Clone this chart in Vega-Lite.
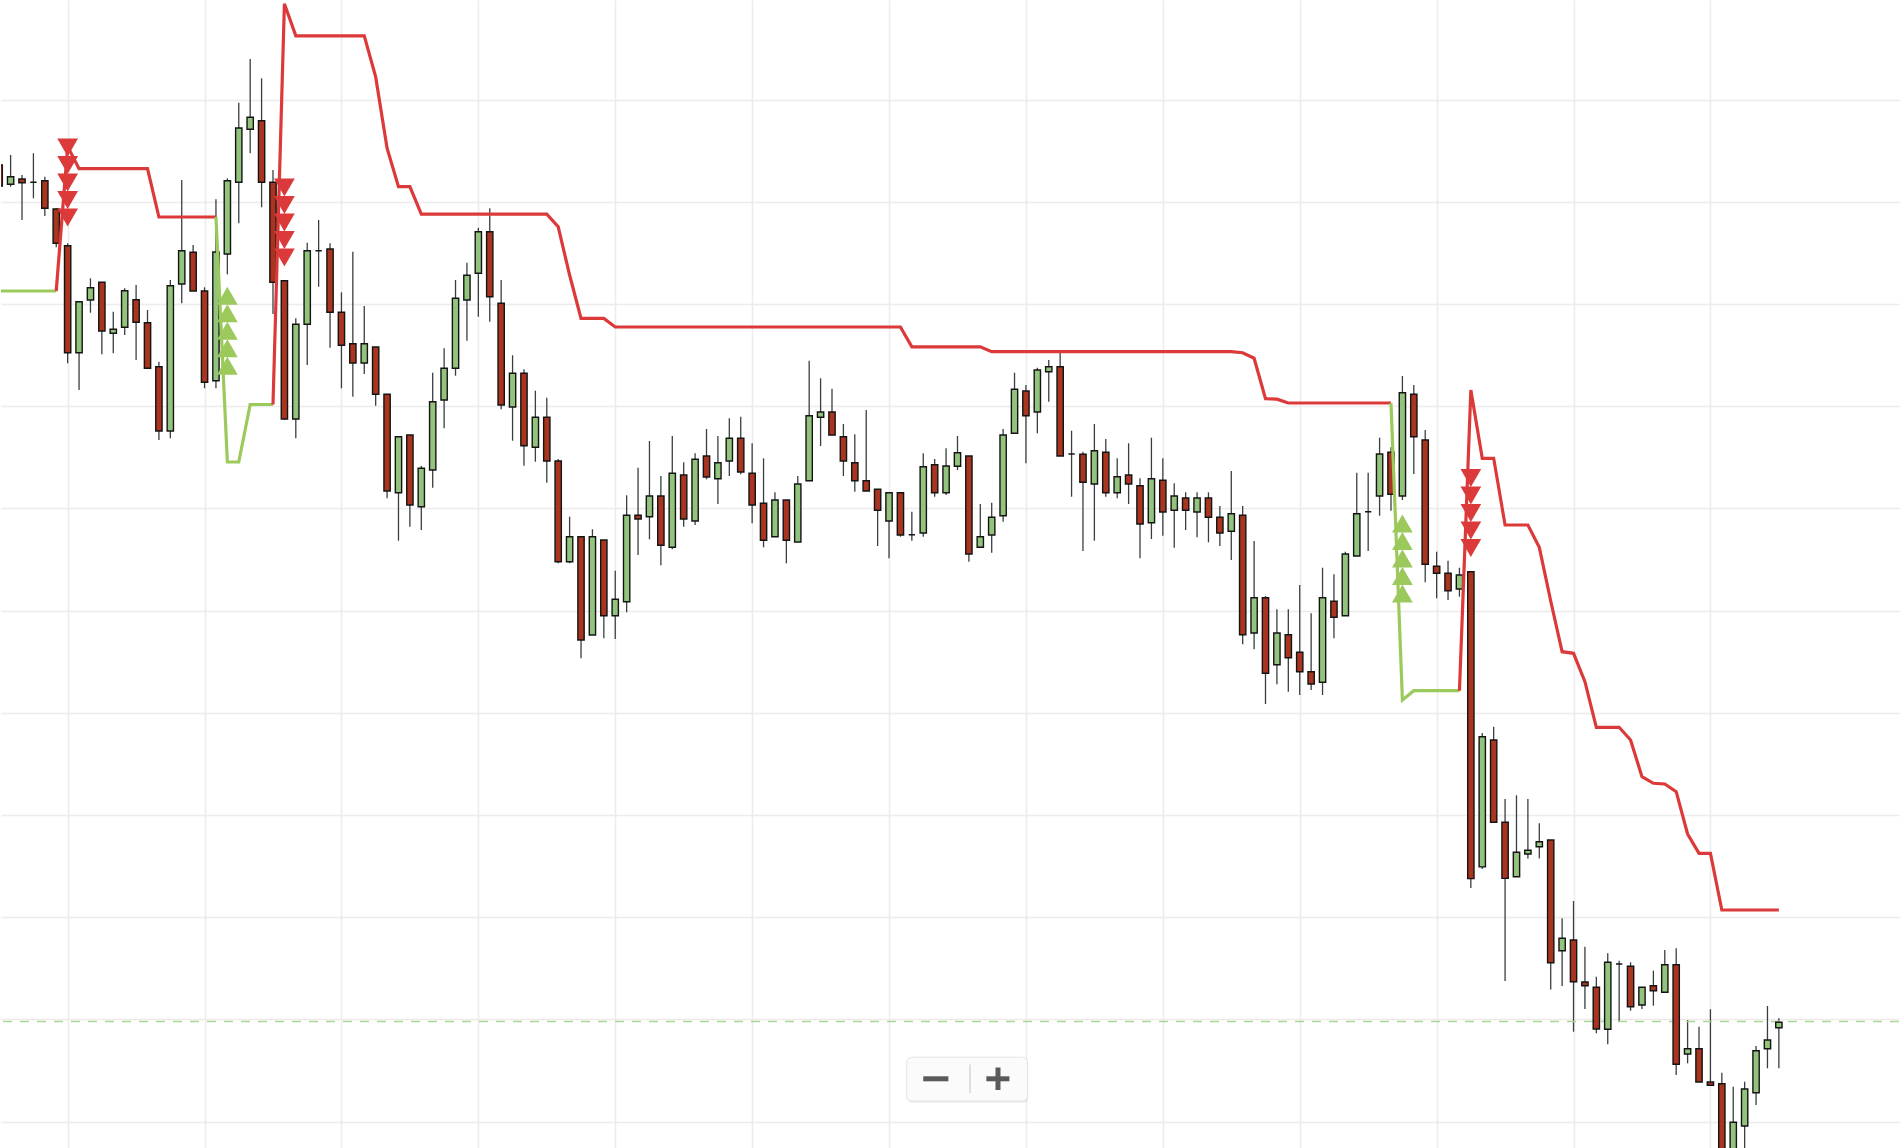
{
  "$schema": "https://vega.github.io/schema/vega-lite/v6.json",
  "width": 1900,
  "height": 1148,
  "padding": 0,
  "autosize": {"type": "fit", "contains": "padding"},
  "background": "#ffffff",
  "datasets": {
    "candles": [
      {"i":0,"o":103.5,"h":104.2,"l":101.0,"c":101.4},
      {"i":1,"o":101.57,"h":104.5,"l":101.33,"c":102.33},
      {"i":2,"o":102.1,"h":102.5,"l":98.0,"c":101.73},
      {"i":3,"o":101.77,"h":104.67,"l":100.17,"c":101.77},
      {"i":4,"o":101.93,"h":102.33,"l":98.4,"c":99.17},
      {"i":5,"o":99.1,"h":99.17,"l":95.27,"c":95.67},
      {"i":6,"o":95.43,"h":95.67,"l":83.67,"c":84.73},
      {"i":7,"o":84.73,"h":89.83,"l":81.0,"c":89.83},
      {"i":8,"o":90.0,"h":92.17,"l":88.73,"c":91.23},
      {"i":9,"o":91.77,"h":91.77,"l":84.57,"c":86.9},
      {"i":10,"o":86.67,"h":88.83,"l":84.67,"c":87.07},
      {"i":11,"o":87.27,"h":91.17,"l":86.5,"c":90.93},
      {"i":12,"o":90.03,"h":91.5,"l":84.0,"c":87.77},
      {"i":13,"o":87.73,"h":89.0,"l":83.17,"c":83.17},
      {"i":14,"o":83.33,"h":83.83,"l":76.0,"c":76.9},
      {"i":15,"o":76.9,"h":92.0,"l":76.17,"c":91.43},
      {"i":16,"o":91.6,"h":102.0,"l":89.67,"c":94.93},
      {"i":17,"o":94.77,"h":95.5,"l":90.9,"c":90.9},
      {"i":18,"o":90.9,"h":91.27,"l":81.17,"c":81.77},
      {"i":19,"o":81.93,"h":100.07,"l":81.17,"c":94.8},
      {"i":20,"o":94.6,"h":102.17,"l":92.57,"c":101.93},
      {"i":21,"o":101.77,"h":109.73,"l":97.67,"c":107.2},
      {"i":22,"o":107.07,"h":114.1,"l":104.67,"c":108.27},
      {"i":23,"o":107.93,"h":112.17,"l":99.27,"c":101.77},
      {"i":24,"o":101.77,"h":103.0,"l":88.6,"c":91.77},
      {"i":25,"o":91.93,"h":92.0,"l":78.0,"c":78.1},
      {"i":26,"o":78.1,"h":88.17,"l":76.17,"c":87.57},
      {"i":27,"o":87.57,"h":95.73,"l":83.5,"c":94.93},
      {"i":28,"o":94.93,"h":98.0,"l":91.33,"c":94.93},
      {"i":29,"o":95.1,"h":95.67,"l":85.23,"c":88.77},
      {"i":30,"o":88.77,"h":90.77,"l":81.17,"c":85.47},
      {"i":31,"o":85.63,"h":94.83,"l":80.33,"c":83.7},
      {"i":32,"o":83.7,"h":89.4,"l":82.6,"c":85.63},
      {"i":33,"o":85.3,"h":85.3,"l":79.43,"c":80.57},
      {"i":34,"o":80.57,"h":80.57,"l":70.17,"c":70.9},
      {"i":35,"o":70.73,"h":76.33,"l":65.93,"c":76.33},
      {"i":36,"o":76.5,"h":76.5,"l":67.33,"c":69.5},
      {"i":37,"o":69.33,"h":73.4,"l":67.0,"c":73.17},
      {"i":38,"o":73.0,"h":82.73,"l":71.23,"c":79.83},
      {"i":39,"o":80.0,"h":85.17,"l":77.17,"c":83.17},
      {"i":40,"o":83.17,"h":92.0,"l":82.43,"c":90.17},
      {"i":41,"o":90.0,"h":93.73,"l":85.93,"c":92.47},
      {"i":42,"o":92.67,"h":97.23,"l":88.33,"c":96.83},
      {"i":43,"o":96.83,"h":99.17,"l":87.83,"c":90.33},
      {"i":44,"o":89.67,"h":92.0,"l":79.07,"c":79.5},
      {"i":45,"o":79.3,"h":84.47,"l":75.93,"c":82.67},
      {"i":46,"o":82.67,"h":83.07,"l":73.43,"c":75.43},
      {"i":47,"o":75.27,"h":80.93,"l":73.83,"c":78.27},
      {"i":48,"o":78.27,"h":80.23,"l":71.73,"c":73.9},
      {"i":49,"o":73.9,"h":74.1,"l":63.67,"c":63.83},
      {"i":50,"o":63.83,"h":68.33,"l":63.67,"c":66.33},
      {"i":51,"o":66.33,"h":66.33,"l":54.17,"c":56.0},
      {"i":52,"o":56.5,"h":67.07,"l":56.5,"c":66.33},
      {"i":53,"o":66.0,"h":66.0,"l":56.17,"c":58.43},
      {"i":54,"o":58.43,"h":62.93,"l":56.1,"c":60.07},
      {"i":55,"o":59.83,"h":70.47,"l":58.77,"c":68.47},
      {"i":56,"o":68.47,"h":73.23,"l":64.5,"c":68.1},
      {"i":57,"o":68.33,"h":75.9,"l":66.07,"c":70.4},
      {"i":58,"o":70.4,"h":72.4,"l":63.47,"c":65.47},
      {"i":59,"o":65.27,"h":76.4,"l":65.07,"c":72.67},
      {"i":60,"o":72.5,"h":73.77,"l":67.33,"c":68.1},
      {"i":61,"o":67.9,"h":74.67,"l":67.5,"c":74.07},
      {"i":62,"o":74.4,"h":77.1,"l":72.07,"c":72.3},
      {"i":63,"o":72.13,"h":76.4,"l":69.6,"c":73.73},
      {"i":64,"o":73.9,"h":78.17,"l":72.4,"c":76.17},
      {"i":65,"o":76.17,"h":78.33,"l":72.57,"c":72.8},
      {"i":66,"o":72.67,"h":75.67,"l":67.67,"c":69.5},
      {"i":67,"o":69.67,"h":74.17,"l":65.27,"c":65.97},
      {"i":68,"o":66.33,"h":70.77,"l":66.33,"c":70.0},
      {"i":69,"o":70.0,"h":70.0,"l":63.67,"c":65.97},
      {"i":70,"o":65.8,"h":72.4,"l":65.8,"c":71.6},
      {"i":71,"o":71.93,"h":83.93,"l":71.93,"c":78.43},
      {"i":72,"o":78.27,"h":82.17,"l":75.4,"c":78.8},
      {"i":73,"o":78.8,"h":81.13,"l":76.5,"c":76.5},
      {"i":74,"o":76.33,"h":77.6,"l":72.4,"c":73.9},
      {"i":75,"o":73.73,"h":76.57,"l":70.83,"c":71.93},
      {"i":76,"o":71.93,"h":79.0,"l":70.9,"c":70.9},
      {"i":77,"o":71.07,"h":71.07,"l":65.4,"c":68.97},
      {"i":78,"o":67.9,"h":70.73,"l":64.17,"c":70.73},
      {"i":79,"o":70.73,"h":70.73,"l":66.33,"c":66.5},
      {"i":80,"o":66.53,"h":68.83,"l":65.93,"c":66.53},
      {"i":81,"o":66.7,"h":74.67,"l":66.33,"c":73.33},
      {"i":82,"o":73.53,"h":74.1,"l":70.33,"c":70.73},
      {"i":83,"o":70.73,"h":75.17,"l":70.5,"c":73.4},
      {"i":84,"o":73.37,"h":76.4,"l":73.0,"c":74.73},
      {"i":85,"o":74.4,"h":74.4,"l":63.83,"c":64.6},
      {"i":86,"o":65.27,"h":69.6,"l":65.27,"c":66.33},
      {"i":87,"o":66.5,"h":69.73,"l":64.73,"c":68.27},
      {"i":88,"o":68.43,"h":77.1,"l":67.83,"c":76.5},
      {"i":89,"o":76.67,"h":82.73,"l":76.67,"c":81.07},
      {"i":90,"o":80.9,"h":81.5,"l":73.67,"c":78.43},
      {"i":91,"o":78.8,"h":83.23,"l":76.67,"c":83.0},
      {"i":92,"o":82.83,"h":84.0,"l":79.83,"c":83.33},
      {"i":93,"o":83.33,"h":84.73,"l":74.4,"c":74.4},
      {"i":94,"o":74.6,"h":76.93,"l":70.33,"c":74.6},
      {"i":95,"o":74.57,"h":74.83,"l":64.9,"c":71.77},
      {"i":96,"o":71.6,"h":77.6,"l":65.93,"c":74.93},
      {"i":97,"o":74.77,"h":76.1,"l":70.33,"c":70.73},
      {"i":98,"o":70.73,"h":74.17,"l":70.17,"c":72.33},
      {"i":99,"o":72.5,"h":75.67,"l":69.6,"c":71.6},
      {"i":100,"o":71.43,"h":72.17,"l":64.17,"c":67.6},
      {"i":101,"o":67.73,"h":76.23,"l":66.1,"c":72.13},
      {"i":102,"o":71.97,"h":74.17,"l":66.43,"c":68.8},
      {"i":103,"o":68.97,"h":71.67,"l":65.23,"c":70.4},
      {"i":104,"o":70.2,"h":70.77,"l":67.0,"c":68.97},
      {"i":105,"o":68.8,"h":70.77,"l":66.27,"c":70.2},
      {"i":106,"o":70.2,"h":70.77,"l":65.77,"c":68.27},
      {"i":107,"o":68.27,"h":69.4,"l":65.4,"c":66.7},
      {"i":108,"o":66.87,"h":72.9,"l":64.0,"c":68.63},
      {"i":109,"o":68.47,"h":69.4,"l":55.57,"c":56.53},
      {"i":110,"o":56.7,"h":65.9,"l":55.07,"c":60.23},
      {"i":111,"o":60.23,"h":60.4,"l":49.6,"c":52.67},
      {"i":112,"o":53.53,"h":59.07,"l":51.57,"c":56.7},
      {"i":113,"o":56.53,"h":59.07,"l":50.83,"c":54.23},
      {"i":114,"o":54.77,"h":61.5,"l":50.5,"c":52.83},
      {"i":115,"o":52.83,"h":58.67,"l":51.0,"c":51.6},
      {"i":116,"o":51.77,"h":63.23,"l":50.5,"c":60.23},
      {"i":117,"o":59.87,"h":62.57,"l":56.17,"c":58.27},
      {"i":118,"o":58.43,"h":64.83,"l":58.43,"c":64.6},
      {"i":119,"o":64.4,"h":72.73,"l":64.4,"c":68.63},
      {"i":120,"o":68.83,"h":72.73,"l":64.9,"c":68.83},
      {"i":121,"o":70.4,"h":76.23,"l":68.43,"c":74.6},
      {"i":122,"o":74.77,"h":75.27,"l":68.93,"c":70.57},
      {"i":123,"o":70.4,"h":82.4,"l":70.0,"c":80.73},
      {"i":124,"o":80.57,"h":81.5,"l":72.6,"c":76.33},
      {"i":125,"o":76.0,"h":77.0,"l":61.77,"c":63.57},
      {"i":126,"o":63.37,"h":64.83,"l":60.17,"c":62.67},
      {"i":127,"o":62.67,"h":63.93,"l":60.0,"c":60.93},
      {"i":128,"o":61.1,"h":63.23,"l":60.33,"c":62.5},
      {"i":129,"o":62.83,"h":62.83,"l":31.2,"c":32.14},
      {"i":130,"o":33.31,"h":46.7,"l":33.1,"c":46.33},
      {"i":131,"o":46.0,"h":47.33,"l":37.78,"c":37.78},
      {"i":132,"o":37.78,"h":40.1,"l":21.9,"c":32.16},
      {"i":133,"o":32.33,"h":40.47,"l":32.33,"c":34.77},
      {"i":134,"o":34.6,"h":40.1,"l":34.15,"c":34.97},
      {"i":135,"o":35.32,"h":37.68,"l":34.15,"c":35.82},
      {"i":136,"o":36.0,"h":36.0,"l":21.06,"c":23.73},
      {"i":137,"o":24.93,"h":28.17,"l":21.4,"c":26.17},
      {"i":138,"o":26.0,"h":29.9,"l":16.83,"c":21.83},
      {"i":139,"o":21.8,"h":25.33,"l":19.1,"c":21.43},
      {"i":140,"o":21.27,"h":22.33,"l":16.67,"c":17.1},
      {"i":141,"o":17.07,"h":24.67,"l":15.57,"c":23.77},
      {"i":142,"o":23.6,"h":23.93,"l":17.83,"c":23.6},
      {"i":143,"o":23.37,"h":23.77,"l":18.93,"c":19.33},
      {"i":144,"o":19.5,"h":21.27,"l":19.1,"c":21.27},
      {"i":145,"o":21.43,"h":22.93,"l":19.43,"c":20.93},
      {"i":146,"o":20.77,"h":25.0,"l":20.77,"c":23.53},
      {"i":147,"o":23.53,"h":25.17,"l":12.5,"c":13.57},
      {"i":148,"o":14.6,"h":18.0,"l":13.67,"c":15.13},
      {"i":149,"o":15.13,"h":17.33,"l":11.8,"c":11.8},
      {"i":150,"o":11.8,"h":19.07,"l":11.47,"c":11.47},
      {"i":151,"o":11.63,"h":12.73,"l":2.5,"c":3.0},
      {"i":152,"o":3.0,"h":11.33,"l":2.5,"c":7.77},
      {"i":153,"o":7.4,"h":11.83,"l":5.0,"c":11.1},
      {"i":154,"o":10.73,"h":15.4,"l":9.5,"c":14.93},
      {"i":155,"o":15.13,"h":19.4,"l":13.17,"c":16.0},
      {"i":156,"o":17.23,"h":18.17,"l":13.17,"c":17.77}
    ],
    "supertrend": [
      {"i":0,"v":90.9,"s":"a","t":"up"},{"i":1,"v":90.9,"s":"a","t":"up"},{"i":2,"v":90.9,"s":"a","t":"up"},
      {"i":3,"v":90.9,"s":"a","t":"up"},{"i":4,"v":90.9,"s":"a","t":"up"},{"i":5,"v":90.9,"s":"a","t":"up"},
      {"i":5,"v":90.9,"s":"b","t":"dn"},{"i":6,"v":105.35,"s":"b","t":"dn"},{"i":7,"v":103.13,"s":"b","t":"dn"},
      {"i":8,"v":103.13,"s":"b","t":"dn"},{"i":9,"v":103.13,"s":"b","t":"dn"},{"i":10,"v":103.13,"s":"b","t":"dn"},
      {"i":11,"v":103.13,"s":"b","t":"dn"},{"i":12,"v":103.13,"s":"b","t":"dn"},{"i":13,"v":103.13,"s":"b","t":"dn"},
      {"i":14,"v":98.3,"s":"b","t":"dn"},{"i":15,"v":98.3,"s":"b","t":"dn"},{"i":16,"v":98.3,"s":"b","t":"dn"},
      {"i":17,"v":98.3,"s":"b","t":"dn"},{"i":18,"v":98.3,"s":"b","t":"dn"},{"i":19,"v":98.3,"s":"b","t":"dn"},
      {"i":19,"v":98.3,"s":"c","t":"up"},{"i":20,"v":73.8,"s":"c","t":"up"},{"i":21,"v":73.8,"s":"c","t":"up"},
      {"i":22,"v":79.55,"s":"c","t":"up"},{"i":23,"v":79.55,"s":"c","t":"up"},{"i":24,"v":79.55,"s":"c","t":"up"},
      {"i":24,"v":79.55,"s":"d","t":"dn"},{"i":25,"v":119.63,"s":"d","t":"dn"},{"i":26,"v":116.41,"s":"d","t":"dn"},
      {"i":27,"v":116.41,"s":"d","t":"dn"},{"i":28,"v":116.41,"s":"d","t":"dn"},{"i":29,"v":116.41,"s":"d","t":"dn"},
      {"i":30,"v":116.41,"s":"d","t":"dn"},{"i":31,"v":116.41,"s":"d","t":"dn"},{"i":32,"v":116.41,"s":"d","t":"dn"},
      {"i":33,"v":112.31,"s":"d","t":"dn"},{"i":34,"v":105.18,"s":"d","t":"dn"},{"i":35,"v":101.33,"s":"d","t":"dn"},
      {"i":36,"v":101.33,"s":"d","t":"dn"},{"i":37,"v":98.59,"s":"d","t":"dn"},{"i":38,"v":98.59,"s":"d","t":"dn"},
      {"i":39,"v":98.59,"s":"d","t":"dn"},{"i":40,"v":98.59,"s":"d","t":"dn"},{"i":41,"v":98.59,"s":"d","t":"dn"},
      {"i":42,"v":98.59,"s":"d","t":"dn"},{"i":43,"v":98.59,"s":"d","t":"dn"},{"i":44,"v":98.59,"s":"d","t":"dn"},
      {"i":45,"v":98.59,"s":"d","t":"dn"},{"i":46,"v":98.59,"s":"d","t":"dn"},{"i":47,"v":98.59,"s":"d","t":"dn"},
      {"i":48,"v":98.59,"s":"d","t":"dn"},{"i":49,"v":97.32,"s":"d","t":"dn"},{"i":50,"v":92.5,"s":"d","t":"dn"},
      {"i":51,"v":88.16,"s":"d","t":"dn"},{"i":52,"v":88.16,"s":"d","t":"dn"},{"i":53,"v":88.16,"s":"d","t":"dn"},
      {"i":54,"v":87.3,"s":"d","t":"dn"},{"i":55,"v":87.3,"s":"d","t":"dn"},{"i":56,"v":87.3,"s":"d","t":"dn"},
      {"i":57,"v":87.3,"s":"d","t":"dn"},{"i":58,"v":87.3,"s":"d","t":"dn"},{"i":59,"v":87.3,"s":"d","t":"dn"},
      {"i":60,"v":87.3,"s":"d","t":"dn"},{"i":61,"v":87.3,"s":"d","t":"dn"},{"i":62,"v":87.3,"s":"d","t":"dn"},
      {"i":63,"v":87.3,"s":"d","t":"dn"},{"i":64,"v":87.3,"s":"d","t":"dn"},{"i":65,"v":87.3,"s":"d","t":"dn"},
      {"i":66,"v":87.3,"s":"d","t":"dn"},{"i":67,"v":87.3,"s":"d","t":"dn"},{"i":68,"v":87.3,"s":"d","t":"dn"},
      {"i":69,"v":87.3,"s":"d","t":"dn"},{"i":70,"v":87.3,"s":"d","t":"dn"},{"i":71,"v":87.3,"s":"d","t":"dn"},
      {"i":72,"v":87.3,"s":"d","t":"dn"},{"i":73,"v":87.3,"s":"d","t":"dn"},{"i":74,"v":87.3,"s":"d","t":"dn"},
      {"i":75,"v":87.3,"s":"d","t":"dn"},{"i":76,"v":87.3,"s":"d","t":"dn"},{"i":77,"v":87.3,"s":"d","t":"dn"},
      {"i":78,"v":87.3,"s":"d","t":"dn"},{"i":79,"v":87.3,"s":"d","t":"dn"},{"i":80,"v":85.32,"s":"d","t":"dn"},
      {"i":81,"v":85.32,"s":"d","t":"dn"},{"i":82,"v":85.32,"s":"d","t":"dn"},{"i":83,"v":85.32,"s":"d","t":"dn"},
      {"i":84,"v":85.32,"s":"d","t":"dn"},{"i":85,"v":85.32,"s":"d","t":"dn"},{"i":86,"v":85.32,"s":"d","t":"dn"},
      {"i":87,"v":84.84,"s":"d","t":"dn"},{"i":88,"v":84.84,"s":"d","t":"dn"},{"i":89,"v":84.84,"s":"d","t":"dn"},
      {"i":90,"v":84.84,"s":"d","t":"dn"},{"i":91,"v":84.84,"s":"d","t":"dn"},{"i":92,"v":84.84,"s":"d","t":"dn"},
      {"i":93,"v":84.84,"s":"d","t":"dn"},{"i":94,"v":84.84,"s":"d","t":"dn"},{"i":95,"v":84.84,"s":"d","t":"dn"},
      {"i":96,"v":84.84,"s":"d","t":"dn"},{"i":97,"v":84.84,"s":"d","t":"dn"},{"i":98,"v":84.84,"s":"d","t":"dn"},
      {"i":99,"v":84.84,"s":"d","t":"dn"},{"i":100,"v":84.84,"s":"d","t":"dn"},{"i":101,"v":84.84,"s":"d","t":"dn"},
      {"i":102,"v":84.84,"s":"d","t":"dn"},{"i":103,"v":84.84,"s":"d","t":"dn"},{"i":104,"v":84.84,"s":"d","t":"dn"},
      {"i":105,"v":84.84,"s":"d","t":"dn"},{"i":106,"v":84.84,"s":"d","t":"dn"},{"i":107,"v":84.84,"s":"d","t":"dn"},
      {"i":108,"v":84.84,"s":"d","t":"dn"},{"i":109,"v":84.73,"s":"d","t":"dn"},{"i":110,"v":84.18,"s":"d","t":"dn"},
      {"i":111,"v":80.13,"s":"d","t":"dn"},{"i":112,"v":80.08,"s":"d","t":"dn"},{"i":113,"v":79.7,"s":"d","t":"dn"},
      {"i":114,"v":79.7,"s":"d","t":"dn"},{"i":115,"v":79.7,"s":"d","t":"dn"},{"i":116,"v":79.7,"s":"d","t":"dn"},
      {"i":117,"v":79.7,"s":"d","t":"dn"},{"i":118,"v":79.7,"s":"d","t":"dn"},{"i":119,"v":79.7,"s":"d","t":"dn"},
      {"i":120,"v":79.7,"s":"d","t":"dn"},{"i":121,"v":79.7,"s":"d","t":"dn"},{"i":122,"v":79.7,"s":"d","t":"dn"},
      {"i":122,"v":79.7,"s":"e","t":"up"},{"i":123,"v":50.0,"s":"e","t":"up"},{"i":124,"v":50.93,"s":"e","t":"up"},
      {"i":125,"v":50.93,"s":"e","t":"up"},{"i":126,"v":50.93,"s":"e","t":"up"},{"i":127,"v":50.93,"s":"e","t":"up"},
      {"i":128,"v":50.93,"s":"e","t":"up"},
      {"i":128,"v":50.93,"s":"f","t":"dn"},{"i":129,"v":81.0,"s":"f","t":"dn"},{"i":130,"v":74.17,"s":"f","t":"dn"},
      {"i":131,"v":74.17,"s":"f","t":"dn"},{"i":132,"v":67.5,"s":"f","t":"dn"},{"i":133,"v":67.5,"s":"f","t":"dn"},
      {"i":134,"v":67.5,"s":"f","t":"dn"},{"i":135,"v":65.27,"s":"f","t":"dn"},{"i":136,"v":59.9,"s":"f","t":"dn"},
      {"i":137,"v":54.83,"s":"f","t":"dn"},{"i":138,"v":54.67,"s":"f","t":"dn"},{"i":139,"v":51.83,"s":"f","t":"dn"},
      {"i":140,"v":47.27,"s":"f","t":"dn"},{"i":141,"v":47.27,"s":"f","t":"dn"},{"i":142,"v":47.27,"s":"f","t":"dn"},
      {"i":143,"v":46.0,"s":"f","t":"dn"},{"i":144,"v":42.33,"s":"f","t":"dn"},{"i":145,"v":41.67,"s":"f","t":"dn"},
      {"i":146,"v":41.6,"s":"f","t":"dn"},{"i":147,"v":40.83,"s":"f","t":"dn"},{"i":148,"v":36.6,"s":"f","t":"dn"},
      {"i":149,"v":34.67,"s":"f","t":"dn"},{"i":150,"v":34.67,"s":"f","t":"dn"},{"i":151,"v":29.0,"s":"f","t":"dn"},
      {"i":152,"v":29.0,"s":"f","t":"dn"},{"i":153,"v":29.0,"s":"f","t":"dn"},{"i":154,"v":29.0,"s":"f","t":"dn"},
      {"i":155,"v":29.0,"s":"f","t":"dn"},{"i":156,"v":29.0,"s":"f","t":"dn"}
    ],
    "signals": [
      {"i":6,"v":105.25,"t":"dn"},{"i":6,"v":103.5,"t":"dn"},{"i":6,"v":101.75,"t":"dn"},{"i":6,"v":100.0,"t":"dn"},{"i":6,"v":98.25,"t":"dn"},
      {"i":20,"v":90.42,"t":"up"},{"i":20,"v":88.67,"t":"up"},{"i":20,"v":86.92,"t":"up"},{"i":20,"v":85.17,"t":"up"},{"i":20,"v":83.42,"t":"up"},
      {"i":25,"v":101.25,"t":"dn"},{"i":25,"v":99.5,"t":"dn"},{"i":25,"v":97.75,"t":"dn"},{"i":25,"v":96.0,"t":"dn"},{"i":25,"v":94.25,"t":"dn"},
      {"i":123,"v":67.65,"t":"up"},{"i":123,"v":65.9,"t":"up"},{"i":123,"v":64.15,"t":"up"},{"i":123,"v":62.4,"t":"up"},{"i":123,"v":60.65,"t":"up"},
      {"i":129,"v":72.2,"t":"dn"},{"i":129,"v":70.45,"t":"dn"},{"i":129,"v":68.7,"t":"dn"},{"i":129,"v":66.95,"t":"dn"},{"i":129,"v":65.2,"t":"dn"}
    ]
  },
  "config": {
    "view": {"stroke": null},
    "axis": {
      "labels": false,
      "ticks": false,
      "domain": false,
      "grid": true,
      "gridColor": "#ececec",
      "gridWidth": 1.5,
      "minExtent": 0,
      "maxExtent": 0,
      "offset": 0,
      "labelPadding": 0,
      "titlePadding": 0
    }
  },
  "layer": [
    {
      "data": {"name": "candles"},
      "mark": {"type": "rule", "color": "#3a3e42", "strokeWidth": 1.3, "clip": true},
      "encoding": {
        "x": {
          "field": "i",
          "type": "quantitative",
          "title": null,
          "scale": {"domain": [0.158, 166.53], "nice": false, "zero": false, "padding": 0},
          "axis": {"values": [6, 18, 30, 42, 54, 66, 78, 90, 102, 114, 126, 138, 150]}
        },
        "y": {
          "field": "l",
          "type": "quantitative",
          "title": null,
          "scale": {"domain": [5.2, 120], "nice": false, "zero": false, "padding": 0},
          "axis": {"values": [7.84, 18.06, 28.28, 38.5, 48.72, 58.94, 69.16, 79.38, 89.6, 99.82, 110.04]}
        },
        "y2": {"field": "h"}
      }
    },
    {
      "data": {"values": [{"ref": 17.84}]},
      "mark": {"type": "rule", "color": "#a9d597", "strokeWidth": 1.5, "strokeDash": [9, 8]},
      "encoding": {
        "y": {"field": "ref", "type": "quantitative", "title": null}
      }
    },
    {
      "data": {"name": "candles"},
      "mark": {"type": "bar", "size": 6.3, "stroke": "#141414", "strokeWidth": 1.4, "clip": true},
      "encoding": {
        "x": {"field": "i", "type": "quantitative", "title": null},
        "y": {"field": "o", "type": "quantitative", "title": null},
        "y2": {"field": "c"},
        "fill": {
          "condition": {"test": "datum.c >= datum.o", "value": "#93c47d"},
          "value": "#a9341f"
        }
      }
    },
    {
      "data": {"name": "supertrend"},
      "mark": {"type": "line", "strokeWidth": 3.2, "clip": true},
      "encoding": {
        "x": {"field": "i", "type": "quantitative", "title": null},
        "y": {"field": "v", "type": "quantitative", "title": null},
        "detail": {"field": "s"},
        "color": {
          "field": "t",
          "type": "nominal",
          "scale": {"domain": ["dn", "up"], "range": ["#dc3a3a", "#9cc95c"]},
          "legend": null
        }
      }
    },
    {
      "data": {"name": "signals"},
      "mark": {"type": "point", "filled": true, "opacity": 1, "size": 430, "clip": true},
      "encoding": {
        "x": {"field": "i", "type": "quantitative", "title": null},
        "y": {"field": "v", "type": "quantitative", "title": null},
        "color": {"field": "t", "type": "nominal", "legend": null},
        "shape": {
          "field": "t",
          "type": "nominal",
          "scale": {"domain": ["dn", "up"], "range": ["triangle-down", "triangle-up"]},
          "legend": null
        }
      }
    },
    {
      "data": {"values": [{"x1": 79.6, "x2": 90.2, "y1": 14.2, "y2": 9.72}]},
      "mark": {"type": "rect", "fill": "#000000", "opacity": 0.07, "cornerRadius": 5},
      "encoding": {
        "x": {"field": "x1", "type": "quantitative", "title": null},
        "x2": {"field": "x2"},
        "y": {"field": "y1", "type": "quantitative", "title": null},
        "y2": {"field": "y2"}
      }
    },
    {
      "data": {"values": [{"x1": 79.55, "x2": 90.14, "y1": 14.28, "y2": 9.9}]},
      "mark": {"type": "rect", "fill": "#fbfbfb", "stroke": "#e4e4e4", "strokeWidth": 1, "cornerRadius": 5},
      "encoding": {
        "x": {"field": "x1", "type": "quantitative", "title": null},
        "x2": {"field": "x2"},
        "y": {"field": "y1", "type": "quantitative", "title": null},
        "y2": {"field": "y2"}
      }
    },
    {
      "data": {"values": [
        {"x1": 85.1, "x2": 85.1, "y1": 13.55, "y2": 10.7, "k": "sep"},
        {"x1": 81.0, "x2": 83.2, "y1": 12.12, "y2": 12.12, "k": "btn"},
        {"x1": 86.53, "x2": 88.55, "y1": 12.12, "y2": 12.12, "k": "btn"},
        {"x1": 87.55, "x2": 87.55, "y1": 13.25, "y2": 11.0, "k": "btn"}
      ]},
      "mark": {"type": "rule"},
      "encoding": {
        "x": {"field": "x1", "type": "quantitative", "title": null},
        "x2": {"field": "x2"},
        "y": {"field": "y1", "type": "quantitative", "title": null},
        "y2": {"field": "y2"},
        "color": {
          "condition": {"test": "datum.k === 'sep'", "value": "#d6d6d6"},
          "value": "#5a5a5a"
        },
        "strokeWidth": {
          "condition": {"test": "datum.k === 'sep'", "value": 1.5},
          "value": 5
        }
      }
    }
  ]
}
